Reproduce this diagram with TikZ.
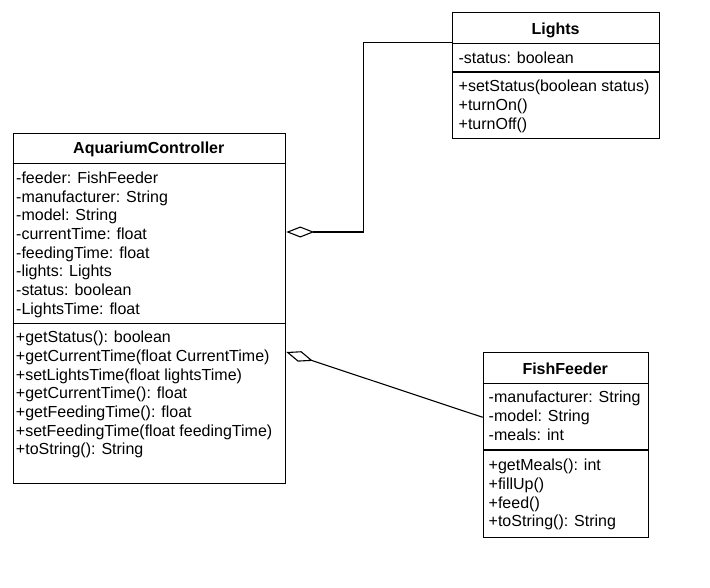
\documentclass[tikz,border=0pt]{standalone}
\usepackage{fontspec}
\setmainfont{Liberation Sans}
\usetikzlibrary{arrows.meta}

\newcommand\umlfont{\fontsize{16}{18.7}\selectfont}

\tikzset{
  classbox/.style={draw, line width=1.1pt, fill=white, anchor=north west, inner sep=0pt},
  classname/.style={anchor=base, inner sep=0pt, font=\umlfont\bfseries},
  % multi-line members are placed by the baseline of their last line
  members/.style={anchor=base west, align=left, inner sep=0pt, font=\umlfont},
  aggr/.style={line width=1.1pt, {Diamond[open,length=28pt,width=11pt]}-}
}

\begin{document}
\begin{tikzpicture}[x=1pt, y=-1pt]
\useasboundingbox (0,0) rectangle (710,587);

% AquariumController
\node[classbox, minimum width=272.5pt, minimum height=350.6pt] (ctrl) at (12.7,132.7) {};
\draw[line width=1.1pt] ([yshift=-30.6pt]ctrl.north west) -- ([yshift=-30.6pt]ctrl.north east);
\draw[line width=1.1pt] ([yshift=-190.6pt]ctrl.north west) -- ([yshift=-190.6pt]ctrl.north east);
\node[classname] (ctrlname) at (148.8,153.3) {AquariumController};
\node[members] (ctrlattr) at (16,314.2) {-feeder: FishFeeder\\-manufacturer: String\\-model: String\\-currentTime: float\\-feedingTime: float\\-lights: Lights\\-status: boolean\\-LightsTime: float};
\node[members] (ctrlops) at (15.8,454.9) {+getStatus(): boolean\\+getCurrentTime(float CurrentTime)\\+setLightsTime(float lightsTime)\\+getCurrentTime(): float\\+getFeedingTime(): float\\+setFeedingTime(float feedingTime)\\+toString(): String};

% Lights
\node[classbox, minimum width=206.7pt, minimum height=126pt] (lights) at (452.3,12.3) {};
\draw[line width=1.1pt] ([yshift=-31.4pt]lights.north west) -- ([yshift=-31.4pt]lights.north east);
\draw[line width=1.1pt] ([yshift=-59.7pt]lights.north west) -- ([yshift=-59.7pt]lights.north east);
\node[classname] (lightsname) at (555.6,34.3) {Lights};
\node[members] (lightsattr) at (458.3,63.3) {-status: boolean};
\node[members] (lightsops) at (458.5,129.1) {+setStatus(boolean status)\\+turnOn()\\+turnOff()};

% FishFeeder
\node[classbox, minimum width=165pt, minimum height=185pt] (feeder) at (482.7,352.3) {};
\draw[line width=1.1pt] ([yshift=-31pt]feeder.north west) -- ([yshift=-31pt]feeder.north east);
\draw[line width=1.1pt] ([yshift=-97.7pt]feeder.north west) -- ([yshift=-97.7pt]feeder.north east);
\node[classname] (feedername) at (565.2,374) {FishFeeder};
\node[members] (feederattr) at (488.5,440.1) {-manufacturer: String\\-model: String\\-meals: int};
\node[members] (feederops) at (488.5,526.8) {+getMeals(): int\\+fillUp()\\+feed()\\+toString(): String};

% aggregations
\draw[aggr] ([yshift=-99.3pt]ctrl.north east) -- ++(77,0) |- ([yshift=-30.2pt]lights.north west);
\draw[aggr] ([yshift=-219.3pt]ctrl.north east) -- ([yshift=-65pt]feeder.north west);
\end{tikzpicture}
\end{document}
